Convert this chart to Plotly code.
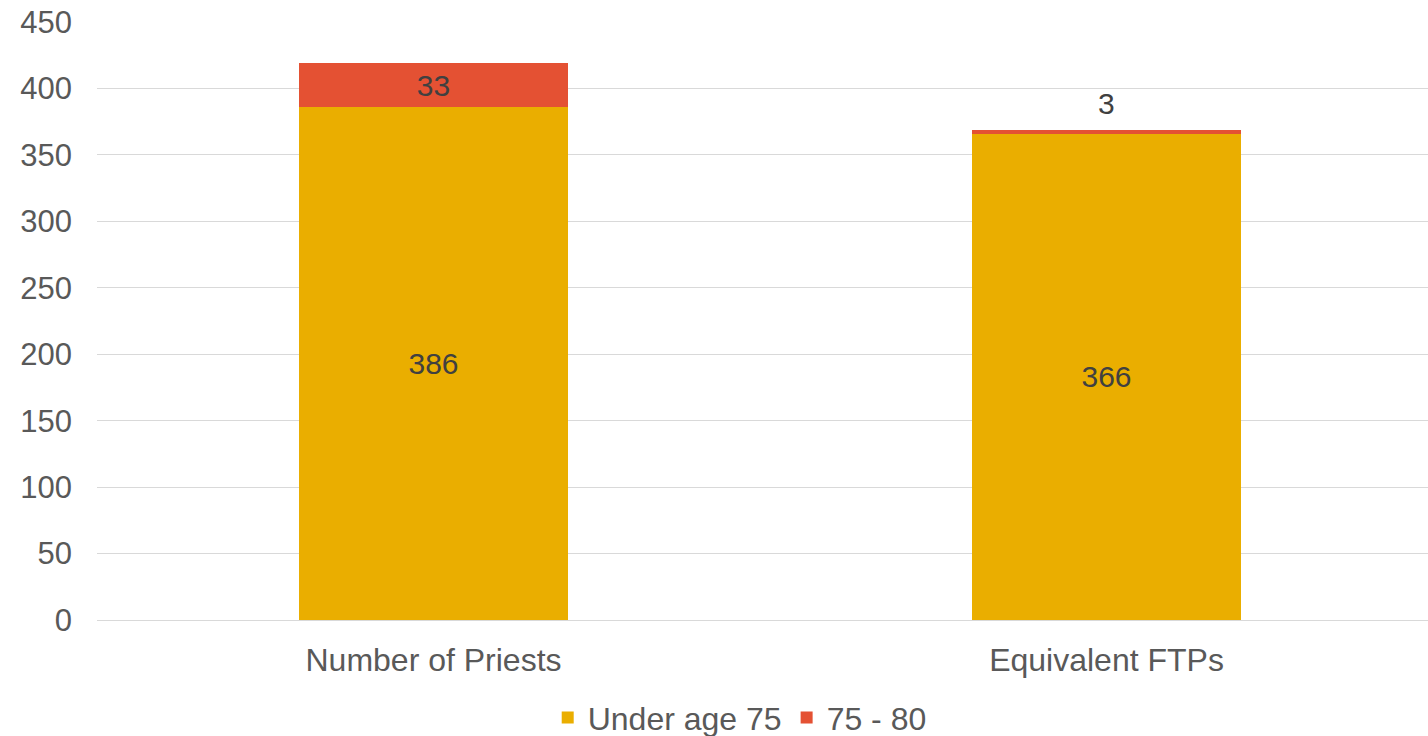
import plotly.graph_objects as go

categories = ["Number of Priests", "Equivalent FTPs"]
under_75 = [386, 366]
age_75_80 = [33, 3]
series_names = ["Under age 75", "75 - 80"]
y_ticks = [0, 50, 100, 150, 200, 250, 300, 350, 400, 450]

GOLD = "#EAAE00"
RED = "#E45133"
FONT = "Liberation Sans, Arial, sans-serif"

fig = go.Figure()
fig.add_trace(go.Bar(
    x=categories, y=under_75, name=series_names[0],
    marker=dict(color=GOLD, line=dict(width=0)),
    text=[str(v) for v in under_75], textposition="inside",
    insidetextanchor="middle",
    textfont=dict(color="#404040", size=30, family=FONT),
))
fig.add_trace(go.Bar(
    x=categories, y=age_75_80, name=series_names[1],
    marker=dict(color=RED, line=dict(width=0)),
    text=[str(age_75_80[0]), ""], textposition="inside",
    insidetextanchor="middle",
    textfont=dict(color="#404040", size=30, family=FONT),
))
# label above the thin top segment of the second bar
fig.add_annotation(
    x=categories[1], y=under_75[1] + age_75_80[1],
    text=str(age_75_80[1]), showarrow=False,
    yanchor="bottom", yshift=8,
    font=dict(color="#404040", size=30, family=FONT),
)

fig.update_layout(
    barmode="stack",
    bargap=0.6,
    width=1428, height=736,
    margin=dict(l=97, r=0, t=22, b=116),
    paper_bgcolor="white", plot_bgcolor="white",
    font=dict(family=FONT, size=30, color="#595959"),
    showlegend=True,
    legend=dict(
        orientation="h",
        xref="container", yref="container",
        x=0.518, xanchor="center",
        y=0.025, yanchor="middle",
        font=dict(size=32, color="#595959", family=FONT),
        traceorder="normal",
        itemwidth=30,
    ),
    xaxis=dict(
        range=[-0.5, 1.4777],
        showgrid=False, showline=True, linecolor="#D9D9D9", linewidth=1,
        ticks="", ticklabelstandoff=12,
        tickfont=dict(size=32, color="#595959"),
    ),
    yaxis=dict(
        range=[0, 450], tickvals=y_ticks,
        showgrid=True, gridcolor="#D9D9D9", gridwidth=1,
        zeroline=False, showline=False, ticks="",
        ticklabelstandoff=24,
        tickfont=dict(size=31, color="#595959"),
    ),
)
fig.update_traces(constraintext="none")

fig.write_html(
    "out.html",
    config={"displayModeBar": False},
    post_script="document.body.style.margin='0';document.body.style.padding='0';",
)
